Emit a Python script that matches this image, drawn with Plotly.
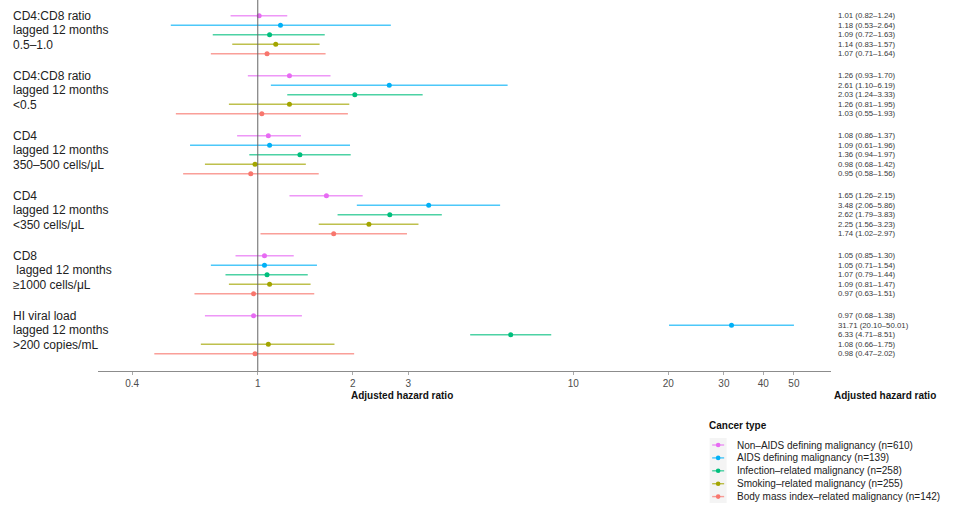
import math
import plotly.graph_objects as go

# ---------------- data ----------------
group_labels = [
    ["CD4:CD8 ratio", "lagged 12 months", "0.5–1.0"],
    ["CD4:CD8 ratio", "lagged 12 months", "<0.5"],
    ["CD4", "lagged 12 months", "350–500 cells/μL"],
    ["CD4", "lagged 12 months", "<350 cells/μL"],
    ["CD8", " lagged 12 months", "≥1000 cells/μL"],
    ["HI viral load", "lagged 12 months", ">200 copies/mL"],
]

series_names = [
    "Non–AIDS defining malignancy (n=610)",
    "AIDS defining malignancy (n=139)",
    "Infection–related malignancy (n=258)",
    "Smoking–related malignancy (n=255)",
    "Body mass index–related malignancy (n=142)",
]

non_aids_hr = [1.01, 1.26, 1.08, 1.65, 1.05, 0.97]
non_aids_lo = [0.82, 0.93, 0.86, 1.26, 0.85, 0.68]
non_aids_hi = [1.24, 1.70, 1.37, 2.15, 1.30, 1.38]

aids_hr = [1.18, 2.61, 1.09, 3.48, 1.05, 31.71]
aids_lo = [0.53, 1.10, 0.61, 2.06, 0.71, 20.10]
aids_hi = [2.64, 6.19, 1.96, 5.86, 1.54, 50.01]

infection_hr = [1.09, 2.03, 1.36, 2.62, 1.07, 6.33]
infection_lo = [0.72, 1.24, 0.94, 1.79, 0.79, 4.71]
infection_hi = [1.63, 3.33, 1.97, 3.83, 1.44, 8.51]

smoking_hr = [1.14, 1.26, 0.98, 2.25, 1.09, 1.08]
smoking_lo = [0.83, 0.81, 0.68, 1.56, 0.81, 0.66]
smoking_hi = [1.57, 1.95, 1.42, 3.23, 1.47, 1.75]

bmi_hr = [1.07, 1.03, 0.95, 1.74, 0.97, 0.98]
bmi_lo = [0.71, 0.55, 0.58, 1.02, 0.63, 0.47]
bmi_hi = [1.64, 1.93, 1.56, 2.97, 1.51, 2.02]

tick_values = [0.4, 1, 2, 3, 10, 20, 30, 40, 50]
tick_labels = ["0.4", "1", "2", "3", "10", "20", "30", "40", "50"]

# ---------------- styling ----------------
colors = ["#E76BF3", "#00B0F6", "#00BF7D", "#A3A500", "#F8766D"]
line_colors = ["rgba(231,107,243,0.7)", "rgba(0,176,246,0.7)", "rgba(0,191,125,0.7)",
               "rgba(163,165,0,0.7)", "rgba(248,118,109,0.7)"]
FONT = "Liberation Sans, Arial, sans-serif"

W, H = 960, 521
ML, MR, MT, MB = 97.5, 128.5, 0, 150
PW = W - ML - MR
PH = H - MT - MB
UNIT = 60.0           # pixels per group
DODGE = 9.5 / UNIT    # offset between series inside a group

def px_x(px):
    return (px - ML) / PW

def px_y(py):
    return (PH - (py - MT)) / PH

all_series = [
    (non_aids_hr, non_aids_lo, non_aids_hi),
    (aids_hr, aids_lo, aids_hi),
    (infection_hr, infection_lo, infection_hi),
    (smoking_hr, smoking_lo, smoking_hi),
    (bmi_hr, bmi_lo, bmi_hi),
]

fig = go.Figure()
annotations = []

for s, (hr, lo, hi) in enumerate(all_series):
    ys = [g + (s - 2) * DODGE for g in range(len(hr))]
    fig.add_trace(go.Scatter(
        x=hr, y=ys, mode="markers",
        marker=dict(color=colors[s], size=5),
        error_x=dict(type="data", symmetric=False,
                     array=[h - m for m, h in zip(hr, hi)],
                     arrayminus=[m - l for m, l in zip(hr, lo)],
                     color=line_colors[s], thickness=1.4, width=0),
        name=series_names[s], showlegend=False, hoverinfo="skip",
    ))
    for g in range(len(hr)):
        annotations.append(dict(
            x=px_x(836.5), xref="paper", y=ys[g], yref="y",
            xanchor="left", yanchor="middle", showarrow=False,
            text=f"{hr[g]:.2f} ({lo[g]:.2f}–{hi[g]:.2f})",
            font=dict(family=FONT, size=7.8, color="#3a3a3a"),
        ))

# group labels (three lines each)
line_offsets = [-18.8, -4.4, 10.0]
for g, lines in enumerate(group_labels):
    for k, txt in enumerate(lines):
        annotations.append(dict(
            x=px_x(10.5), xref="paper", y=g + line_offsets[k] / UNIT, yref="y",
            xanchor="left", yanchor="middle", showarrow=False, text=txt,
            font=dict(family=FONT, size=12, color="#222222"),
        ))

# axis titles
for xp in (402, 886):
    annotations.append(dict(
        x=px_x(xp), xref="paper", y=px_y(395), yref="paper",
        xanchor="center", yanchor="middle", showarrow=False,
        text="<b>Adjusted hazard ratio</b>",
        font=dict(family=FONT, size=10, color="#111111"),
    ))

# manual legend
annotations.append(dict(
    x=px_x(707), xref="paper", y=px_y(425), yref="paper",
    xanchor="left", yanchor="middle", showarrow=False,
    text="<b>Cancer type</b>", font=dict(family=FONT, size=10, color="#111111"),
))

shapes = [
    dict(type="line", xref="x", yref="paper", x0=1, x1=1, y0=0, y1=1,
         line=dict(color="#666666", width=1)),
    dict(type="rect", xref="paper", yref="paper",
         x0=px_x(710), x1=px_x(727), y0=px_y(438), y1=px_y(503),
         fillcolor="#f4f4f4", line=dict(width=0), layer="below"),
]
for s, name in enumerate(series_names):
    py = 445 + 12.9 * s
    shapes.append(dict(type="line", xref="paper", yref="paper",
                       x0=px_x(712.5), x1=px_x(724.5), y0=px_y(py), y1=px_y(py),
                       line=dict(color=line_colors[s], width=1.4)))
    shapes.append(dict(type="circle", xref="paper", yref="paper",
                       xsizemode="pixel", ysizemode="pixel",
                       xanchor=px_x(718.5), yanchor=px_y(py),
                       x0=-2.3, x1=2.3, y0=-2.3, y1=2.3,
                       fillcolor=colors[s], line=dict(width=0)))
    annotations.append(dict(
        x=px_x(735), xref="paper", y=px_y(py), yref="paper",
        xanchor="left", yanchor="middle", showarrow=False, text=name,
        font=dict(family=FONT, size=10, color="#222222"),
    ))

top_units = 34.7 / UNIT
bottom_units = (PH - 34.7) / UNIT

fig.update_layout(
    width=W, height=H,
    margin=dict(l=ML, r=MR, t=MT, b=MB, pad=0),
    paper_bgcolor="white", plot_bgcolor="white",
    font=dict(family=FONT, color="#222222"),
    xaxis=dict(
        type="log",
        range=[(ML - 257.5) / 316.0, (W - MR - 257.5) / 316.0],
        tickmode="array", tickvals=tick_values, ticktext=tick_labels,
        tickfont=dict(family=FONT, size=10, color="#4d4d4d"),
        ticks="outside", ticklen=3, tickcolor="#aaaaaa",
        showline=True, linecolor="#8c8c8c", linewidth=1,
        showgrid=False, zeroline=False,
    ),
    yaxis=dict(
        range=[bottom_units, -top_units],
        showticklabels=False, showgrid=False, zeroline=False,
        showline=False, ticks="",
    ),
    shapes=shapes,
    annotations=annotations,
    showlegend=False,
)

fig.write_html(
    "out.html",
    config={"displayModeBar": False},
    post_script="document.body.style.margin='0';document.body.style.overflow='hidden';",
)
